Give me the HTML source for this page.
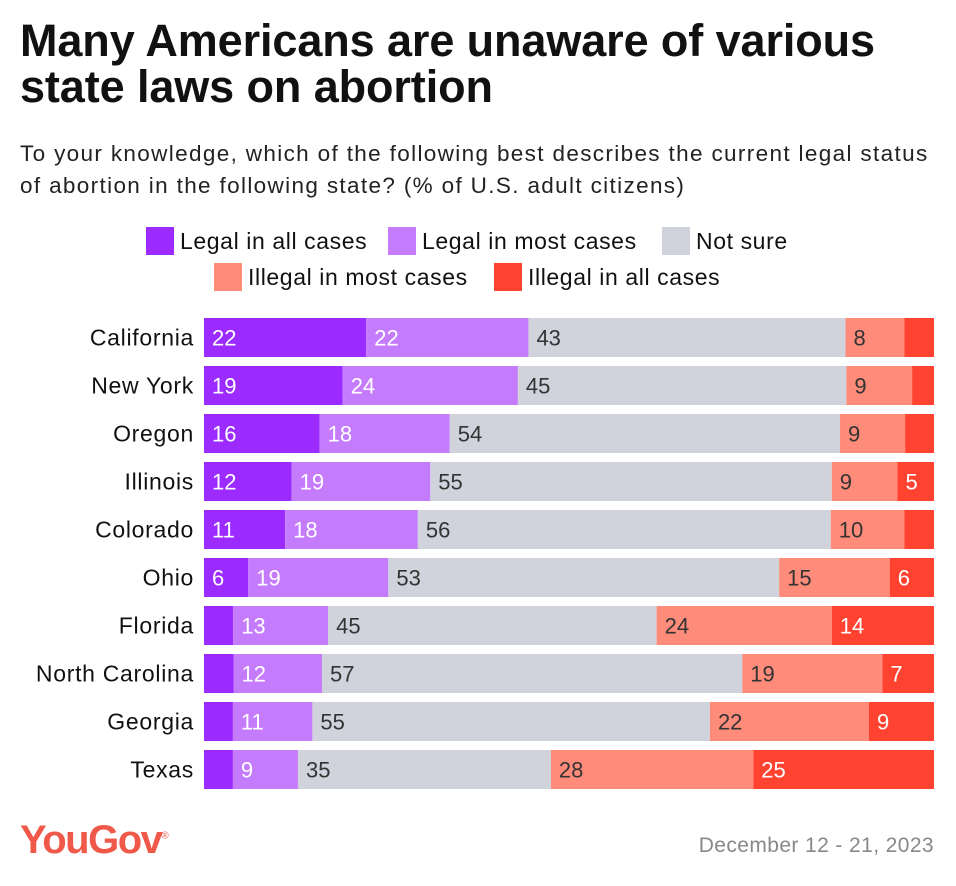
<!DOCTYPE html>
<html><head><meta charset="utf-8"><style>
body{margin:0;width:956px;height:886px;background:#fff;font-family:"Liberation Sans",sans-serif;position:relative;overflow:hidden;color:#111}
#title{position:absolute;left:20px;top:18px;font-size:45px;font-weight:bold;line-height:46px;letter-spacing:-0.1px;margin:0;white-space:nowrap}
#sub{position:absolute;left:20px;top:138px;font-size:22.5px;letter-spacing:1.35px;line-height:32px;color:#222;width:940px;white-space:nowrap}
.leg{position:absolute;font-size:23px;letter-spacing:0.6px;height:28px;line-height:28px;white-space:nowrap}
.leg span{display:inline-block;width:28px;height:28px;vertical-align:top;margin-right:6px}
#logo{position:absolute;left:20px;top:818px;font-size:40px;font-weight:bold;color:#f0594a;letter-spacing:-1.5px}
#date{position:absolute;right:22px;top:834px;font-size:21px;letter-spacing:0.4px;color:#888}
</style></head><body>
<h1 id="title">Many Americans are unaware of various<br>state laws on abortion</h1>
<div id="sub">To your knowledge, which of the following best describes the current legal status<br>of abortion in the following state? (% of U.S. adult citizens)</div>
<div class="leg" style="left:146px;top:227px"><span style="background:#9b2bff"></span>Legal in all cases</div>
<div class="leg" style="left:388px;top:227px"><span style="background:#c47cfc"></span>Legal in most cases</div>
<div class="leg" style="left:662px;top:227px"><span style="background:#d1d3dc"></span>Not sure</div>
<div class="leg" style="left:214px;top:263px"><span style="background:#ff8b7a"></span>Illegal in most cases</div>
<div class="leg" style="left:494px;top:263px"><span style="background:#ff4330"></span>Illegal in all cases</div>
<svg id="chart" width="956" height="886" style="position:absolute;left:0;top:0"></svg>
<div id="logo">YouGov<sup style="font-size:10px;font-weight:normal">®</sup></div>
<div id="date">December 12 - 21, 2023</div>
<script>
const states=["California","New York","Oregon","Illinois","Colorado","Ohio","Florida","North Carolina","Georgia","Texas"];
const legalAll=[22,19,16,12,11,6,4,4,4,4];
const legalMost=[22,24,18,19,18,19,13,12,11,9];
const notSure=[43,45,54,55,56,53,45,57,55,35];
const illegalMost=[8,9,9,9,10,15,24,19,22,28];
const illegalAll=[4,3,4,5,4,6,14,7,9,25];
const showLabel=[[1,1,1,1,0],[1,1,1,1,0],[1,1,1,1,0],[1,1,1,1,1],[1,1,1,1,0],[1,1,1,1,1],[0,1,1,1,1],[0,1,1,1,1],[0,1,1,1,1],[0,1,1,1,1]];
const colors=["#9b2bff","#c47cfc","#d1d3dc","#ff8b7a","#ff4330"];
const textCol=["#fff","#fff","#333","#333","#fff"];
const names=["legal-all","legal-most","not-sure","illegal-most","illegal-all"];
const svg=document.getElementById('chart');const NS="http://www.w3.org/2000/svg";
const x0=204,x1=934,y0=318,step=48,bh=39;
states.forEach((s,i)=>{
  const vals=[legalAll[i],legalMost[i],notSure[i],illegalMost[i],illegalAll[i]];
  const tot=vals.reduce((a,b)=>a+b,0);
  const y=y0+i*step;
  const lab=document.createElementNS(NS,'text');
  
  
  lab.setAttribute('x',194);lab.setAttribute('y',y+bh/2+8);lab.setAttribute('text-anchor','end');
  lab.setAttribute('font-size','23');lab.setAttribute('letter-spacing','0.7');lab.setAttribute('fill','#111');lab.setAttribute('font-family','Liberation Sans, sans-serif');
  lab.textContent=s;svg.appendChild(lab);
  let acc=0;
  vals.forEach((v,j)=>{
    const xa=x0+(x1-x0)*acc/tot;acc+=v;const xb=x0+(x1-x0)*acc/tot;
    const r=document.createElementNS(NS,'rect');
    
    
    r.setAttribute('x',xa);r.setAttribute('y',y);r.setAttribute('width',xb-xa);r.setAttribute('height',bh);r.setAttribute('fill',colors[j]);
    svg.appendChild(r);
    if(showLabel[i][j]){
      const t=document.createElementNS(NS,'text');
      
      
      t.setAttribute('x',xa+8);t.setAttribute('y',y+bh/2+8);t.setAttribute('font-size','22');
      t.setAttribute('fill',textCol[j]);t.setAttribute('font-family','Liberation Sans, sans-serif');
      t.textContent=v;svg.appendChild(t);
    }
  });
});
</script>
</body></html>
